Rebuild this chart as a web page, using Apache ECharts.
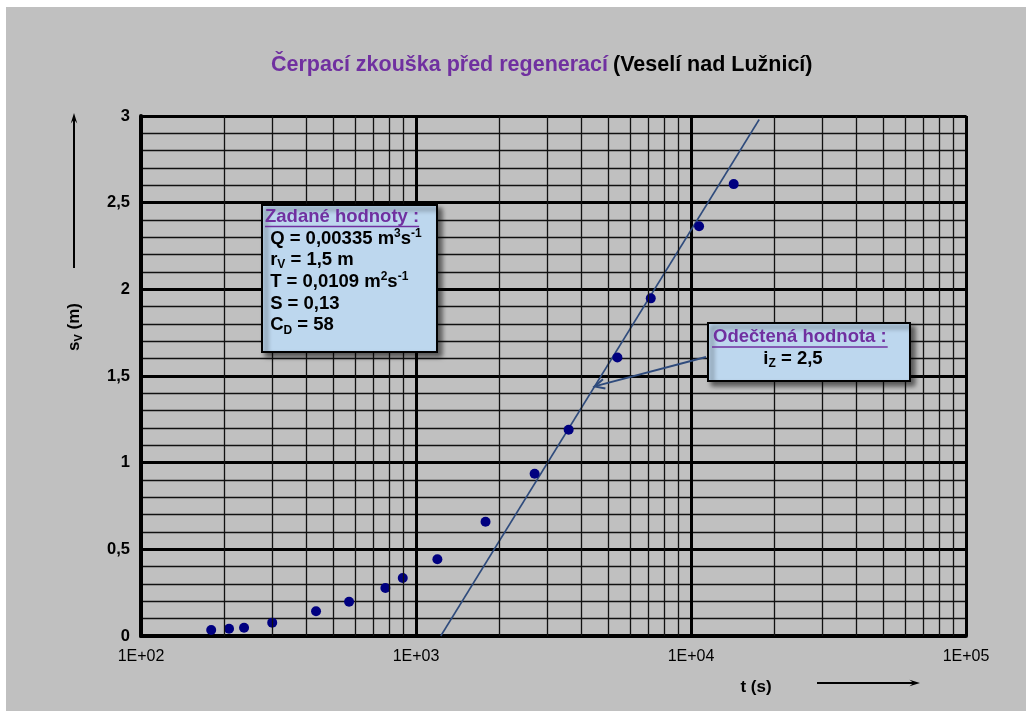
<!DOCTYPE html>
<html>
<head>
<meta charset="utf-8">
<script src="https://cdn.jsdelivr.net/npm/echarts@6/dist/echarts.min.js"></script>
<style>
  html, body { margin: 0; padding: 0; background: #ffffff; }
  #sheet { position: absolute; left: 6px; top: 7px; right: 0; bottom: 0; background: #c0c0c0; }
  #chart { position: absolute; left: 0; top: 0; width: 1026px; height: 711px; }
</style>
</head>
<body>
<div id="sheet"></div>
<div id="chart"></div>
<script>
// Pumping test: drawdown s_V (m) against time t (s), semi-log plot
const timeS = [180, 209, 237, 300, 433, 571, 774, 895, 1196, 1790, 2700, 3590, 5400, 7140, 10700, 14300];
const drawdownM = [0.035, 0.042, 0.048, 0.077, 0.143, 0.198, 0.277, 0.335, 0.443, 0.659, 0.936, 1.19, 1.607, 1.948, 2.364, 2.607];

// Straight-line fit of the late-time data (Jacob)
const fitT = [1230, 17700];
const fitS = [0, 2.98];

// Axis ranges
const xMin = 100, xMax = 100000;
const yMin = 0, yMax = 3, yStep = 0.5;
const decades = [100, 1000, 10000];
const minorFactors = [2, 3, 4, 5, 6, 7, 8, 9];

// Text of the two annotation boxes
const givenTitle = 'Zadané hodnoty :';
const readTitle = 'Odečtená hodnota :';

const FONT = '"Liberation Sans", Arial, sans-serif';
const NARROW = '"Liberation Sans Narrow", "Liberation Sans", Arial, sans-serif';
const PURPLE = '#7030a0';
const LINE_BLUE = '#2f4b7c';
const BOX_FS = 18.5;

const minorX = decades.flatMap(d => minorFactors.map(k => k * d));

const chart = echarts.init(document.getElementById('chart'), null, { renderer: 'canvas' });

const option = {
  backgroundColor: 'transparent',
  animation: false,
  title: {
    left: 266, top: 49,
    text: '{p|Čerpací zkouška před regenerací} {k|(Veselí nad Lužnicí)}',
    textStyle: {
      rich: {
        p: { color: PURPLE, fontFamily: FONT, fontWeight: 'bold', fontSize: 21.5 },
        k: { color: '#000', fontFamily: FONT, fontWeight: 'bold', fontSize: 21.5 }
      }
    }
  },
  grid: {
    left: 141, right: 60, top: 116, bottom: 75,
    show: true, borderColor: '#000', borderWidth: 1.5, backgroundColor: 'transparent'
  },
  xAxis: {
    type: 'log', logBase: 10, min: xMin, max: xMax,
    axisLine: { show: true, lineStyle: { color: '#000', width: 4 } },
    axisTick: { show: false },
    splitLine: { show: true, lineStyle: { color: '#000', width: 3 } },
    axisLabel: {
      color: '#000', fontFamily: NARROW, fontSize: 16, margin: 13,
      formatter: v => '1E+' + String(Math.round(Math.log10(v))).padStart(2, '0')
    }
  },
  yAxis: {
    type: 'value', min: yMin, max: yMax, interval: yStep,
    axisLine: { show: true, lineStyle: { color: '#000', width: 4 } },
    axisTick: { show: false },
    minorTick: { show: false, splitNumber: 5 },
    splitLine: { show: true, lineStyle: { color: '#000', width: 3 } },
    minorSplitLine: { show: true, lineStyle: { color: '#111', width: 1.3 } },
    axisLabel: {
      color: '#000', fontFamily: FONT, fontWeight: 'bold', fontSize: 16.5, margin: 11,
      formatter: v => String(v).replace('.', ',')
    }
  },
  series: [
    {
      // minor vertical grid lines of the log axis
      type: 'line', data: [], silent: true, z: 1,
      markLine: {
        silent: true, symbol: 'none', animation: false,
        label: { show: false },
        lineStyle: { color: '#111', width: 1.3, type: 'solid' },
        data: minorX.map(v => ({ xAxis: v }))
      }
    },
    {
      type: 'line', z: 3, symbol: 'none',
      data: fitT.map((t, i) => [t, fitS[i]]),
      lineStyle: { color: LINE_BLUE, width: 1.6 }
    },
    {
      type: 'scatter', z: 4, symbol: 'circle', symbolSize: 10,
      data: timeS.map((t, i) => [t, drawdownM[i]]),
      itemStyle: { color: '#000080', opacity: 1 }
    }
  ]
};
chart.setOption(option);

// measure text width for underlines
const ctx = document.createElement('canvas').getContext('2d');
function textWidth(str, size) {
  ctx.font = 'bold ' + size + 'px ' + FONT;
  return ctx.measureText(str).width;
}

// point on the fitted line where the reading arrow points
const tipS = 1.44;
const tipLogT = Math.log10(fitT[0]) + (tipS - fitS[0]) / (fitS[1] - fitS[0]) * (Math.log10(fitT[1]) - Math.log10(fitT[0]));
const tip = chart.convertToPixel({ xAxisIndex: 0, yAxisIndex: 0 }, [Math.pow(10, tipLogT), tipS]);

function arrowHead(x, y, angle, len, half, color) {
  const a1 = angle + Math.PI - half, a2 = angle + Math.PI + half;
  return {
    type: 'polygon', z: 100,
    shape: { points: [[x + len * Math.cos(a1), y + len * Math.sin(a1)], [x, y], [x + len * Math.cos(a2), y + len * Math.sin(a2)], [x + len * 0.6 * Math.cos(angle + Math.PI), y + len * 0.6 * Math.sin(angle + Math.PI)]] },
    style: { fill: color }
  };
}

const startArrow = [706, 357];
const ang = Math.atan2(tip[1] - startArrow[1], tip[0] - startArrow[0]);

const boxStyle = {
  fill: '#bdd7ee', stroke: '#000', lineWidth: 2,
  shadowColor: 'rgba(0,0,0,0.55)', shadowBlur: 5, shadowOffsetX: 4, shadowOffsetY: 4
};

// rich styles for graphic text (zrender uses "fill" for the glyph colour)
function tok(color, size, lineHeight, valign) {
  const s = { fill: color, color: color, fontFamily: FONT, fontWeight: 'bold', fontSize: size, lineHeight: lineHeight };
  if (valign) s.verticalAlign = valign;
  return s;
}
const richBox = {
  u: tok(PURPLE, BOX_FS, 21.7),
  b: tok('#000', BOX_FS, 21.7),
  sup: tok('#000', 12, 13, 'top'),
  sub: tok('#000', 12, 12, 'bottom')
};
const axisRich = {
  b: tok('#000', 17, 20),
  sub: tok('#000', 11, 12, 'bottom')
};

const w1 = textWidth(givenTitle, BOX_FS);
const w2 = textWidth(readTitle, BOX_FS);

chart.setOption({
  graphic: [
    // box with the given values
    { type: 'rect', z: 50, shape: { x: 262, y: 205, width: 175, height: 147 }, style: boxStyle },
    {
      type: 'text', z: 60, x: 265, y: 206,
      style: {
        text: '{u|' + givenTitle + '}\n' +
          '{b| Q = 0,00335 m}{sup|3}{b|s}{sup|-1}\n' +
          '{b| r}{sub|V}{b| = 1,5 m}\n' +
          '{b| T = 0,0109 m}{sup|2}{b|s}{sup|-1}\n' +
          '{b| S = 0,13}\n' +
          '{b| C}{sub|D}{b| = 58}',
        rich: richBox
      }
    },
    { type: 'line', z: 60, shape: { x1: 265, y1: 226.5, x2: 265 + w1, y2: 226.5 }, style: { stroke: PURPLE, lineWidth: 1.5 } },

    // box with the value
    { type: 'rect', z: 50, shape: { x: 708, y: 323, width: 202, height: 58 }, style: boxStyle },
    {
      type: 'text', z: 60, x: 713, y: 326,
      style: { text: '{u|' + readTitle + '}', rich: richBox }
    },
    { type: 'line', z: 60, shape: { x1: 712, y1: 347, x2: 714 + w2, y2: 347 }, style: { stroke: PURPLE, lineWidth: 1.5 } },
    {
      type: 'text', z: 60, x: 793, y: 359,
      style: { text: '{b|i}{sub|Z}{b| = 2,5}', rich: richBox, align: 'center', verticalAlign: 'middle' }
    },

    // reading arrow to the fitted line
    { type: 'line', z: 100, shape: { x1: startArrow[0], y1: startArrow[1], x2: tip[0], y2: tip[1] }, style: { stroke: LINE_BLUE, lineWidth: 2 } },
    {
      type: 'polyline', z: 100,
      shape: { points: [
        [tip[0] + 11 * Math.cos(ang + Math.PI - 0.45), tip[1] + 11 * Math.sin(ang + Math.PI - 0.45)],
        [tip[0], tip[1]],
        [tip[0] + 11 * Math.cos(ang + Math.PI + 0.45), tip[1] + 11 * Math.sin(ang + Math.PI + 0.45)]
      ] },
      style: { stroke: LINE_BLUE, lineWidth: 2, fill: null }
    },

    // axis names with direction arrows
    {
      type: 'text', z: 60, x: 74, y: 327, rotation: Math.PI / 2,
      style: { text: '{b|s}{sub|V}{b| (m)}', align: 'center', verticalAlign: 'middle', rich: axisRich }
    },
    { type: 'line', z: 60, shape: { x1: 74, y1: 268, x2: 74, y2: 118 }, style: { stroke: '#000', lineWidth: 2 } },
    arrowHead(74, 113, -Math.PI / 2, 11, 0.3, '#000'),
    {
      type: 'text', z: 60, x: 756, y: 687,
      style: { text: 't (s)', fill: '#000', font: 'bold 17px ' + FONT, align: 'center', verticalAlign: 'middle' }
    },
    { type: 'line', z: 60, shape: { x1: 817, y1: 683, x2: 915, y2: 683 }, style: { stroke: '#000', lineWidth: 2 } },
    arrowHead(920, 683, 0, 11, 0.3, '#000')
  ]
});
</script>
</body>
</html>
